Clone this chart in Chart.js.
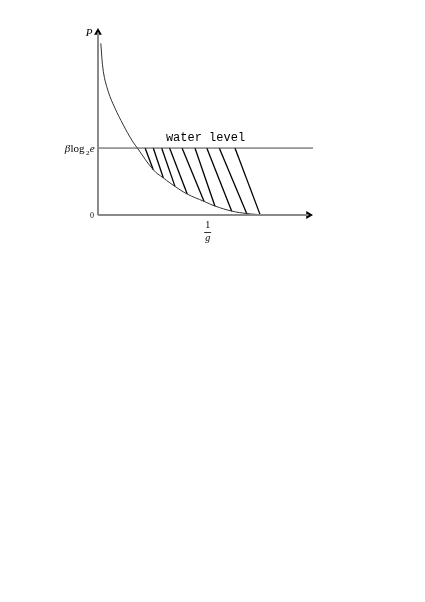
<!DOCTYPE html>
<html><head><meta charset="utf-8">
<script src="https://cdn.jsdelivr.net/npm/chart.js@4/dist/chart.umd.min.js"></script>
<style>html,body{margin:0;padding:0;background:#fff;}canvas{display:block;}</style>
</head><body>
<canvas id="c" width="425" height="602"></canvas>
<script>
// Curve P versus 1/g (arbitrary units)
const curveX = [0.13, 0.25, 0.48, 0.79, 1.18, 1.57, 1.83, 2.57, 3.04, 3.58, 4.15, 4.93, 5.44, 6.22, 6.92, 7.54, 7.86];
const curveY = [9.18, 7.66, 6.59, 5.71, 4.81, 4.01, 3.58, 2.42, 1.98, 1.53, 1.12, 0.73, 0.48, 0.21, 0.08, 0.02, 0.0];
// Water level (beta log2 e)
const waterLevel = 3.58;
const waterEndX = 10;
// Hatch lines: top on water level, bottom on the curve
const hatchTopX    = [2.19, 2.57, 2.96, 3.33, 3.91, 4.51, 5.06, 5.64, 6.37];
const hatchBottomX = [2.57, 3.04, 3.58, 4.15, 4.93, 5.44, 6.22, 6.92, 7.54];
const hatchBottomY = [2.42, 1.98, 1.53, 1.12, 0.73, 0.47, 0.20, 0.07, 0.02];
// Axes extents
const xAxisEnd = 9.79;
const yAxisEnd = 9.76;
// Text
const yTitle = 'P';
const xTitleNum = '1';
const xTitleDen = 'g';
const zeroLabel = '0';
const waterText = 'water level';
const waterTextX = 5.0;

const datasets = [];
datasets.push({ data: [{x:0,y:0},{x:xAxisEnd,y:0}], borderColor:'#8a8a8a', borderWidth:2, pointRadius:0 });
datasets.push({ data: [{x:0,y:0},{x:0,y:yAxisEnd}], borderColor:'#8a8a8a', borderWidth:2, pointRadius:0 });
datasets.push({ data: [{x:xAxisEnd,y:0}], pointStyle:'triangle', rotation:90, pointRadius:4.5, backgroundColor:'#000', borderColor:'#000', borderWidth:0, showLine:false });
datasets.push({ data: [{x:0,y:yAxisEnd}], pointStyle:'triangle', rotation:0, pointRadius:4.5, backgroundColor:'#000', borderColor:'#000', borderWidth:0, showLine:false });
datasets.push({ data: [{x:0,y:waterLevel},{x:waterEndX,y:waterLevel}], borderColor:'#444', borderWidth:1, pointRadius:0 });
datasets.push({ data: curveX.map((x,i)=>({x, y:curveY[i]})), borderColor:'#333', borderWidth:1, pointRadius:0, tension:0.4 });
hatchTopX.forEach((tx,i)=>{
  datasets.push({ data: [{x:tx,y:waterLevel},{x:hatchBottomX[i],y:hatchBottomY[i]}], borderColor:'#000', borderWidth:1.3, pointRadius:0 });
});
datasets.forEach(d=>{ d.clip = false; if (d.showLine === undefined) d.showLine = true; });

const textPlugin = {
  id:'texts',
  afterDatasetsDraw(chart){
    const ctx = chart.ctx, xs = chart.scales.x, ys = chart.scales.y;
    const x0 = xs.getPixelForValue(0), y0 = ys.getPixelForValue(0);
    ctx.save();
    ctx.fillStyle = '#000';
    ctx.font = 'italic 11px "Liberation Serif"';
    ctx.textAlign = 'center'; ctx.textBaseline = 'middle';
    ctx.fillText(yTitle, x0 - 9, ys.getPixelForValue(yAxisEnd) + 1);
    ctx.font = '8px "Liberation Serif"';
    ctx.fillText(zeroLabel, x0 - 6, y0 + 1);
    const wy = ys.getPixelForValue(waterLevel);
    const parts = [
      {t:'\u03B2', f:'italic 11px "Liberation Serif"', dy:0},
      {t:'log', f:'11px "Liberation Serif"', dy:0},
      {t:'2', f:'7px "Liberation Serif"', dy:2.5},
      {t:'e', f:'italic 11px "Liberation Serif"', dy:0}
    ];
    let total = 0;
    parts.forEach(p=>{ ctx.font = p.f; p.w = ctx.measureText(p.t).width; total += p.w + (p.t==='log'?1.5:0.3); });
    let px = x0 - 3 - total;
    ctx.textAlign = 'left'; ctx.textBaseline = 'alphabetic';
    parts.forEach(p=>{ ctx.font = p.f; ctx.fillText(p.t, px, wy + 4 + p.dy); px += p.w + (p.t==='log'?1.5:0.3); });
    ctx.font = '12px "Liberation Mono"';
    ctx.textAlign = 'center';
    ctx.fillText(waterText, xs.getPixelForValue(waterTextX), wy - 7);
    const fx = xs.getPixelForValue(5.1);
    ctx.font = '10px "Liberation Serif"';
    ctx.textBaseline = 'middle';
    ctx.fillText(xTitleNum, fx, y0 + 10);
    ctx.strokeStyle = '#000'; ctx.lineWidth = 0.8;
    ctx.beginPath(); ctx.moveTo(fx - 3.5, y0 + 17.5); ctx.lineTo(fx + 3.5, y0 + 17.5); ctx.stroke();
    ctx.font = 'italic 10px "Liberation Serif"';
    ctx.fillText(xTitleDen, fx, y0 + 23);
    ctx.restore();
  }
};

new Chart(document.getElementById('c'), {
  type:'scatter',
  data:{ datasets },
  options:{
    responsive:false, animation:false,
    layout:{ padding:{ left:98, right:112, top:28, bottom:387 } },
    plugins:{ legend:{display:false}, tooltip:{enabled:false} },
    scales:{
      x:{ type:'linear', min:0, max:10, display:false },
      y:{ type:'linear', min:0, max:10, display:false }
    }
  },
  plugins:[textPlugin]
});
</script>
</body></html>
